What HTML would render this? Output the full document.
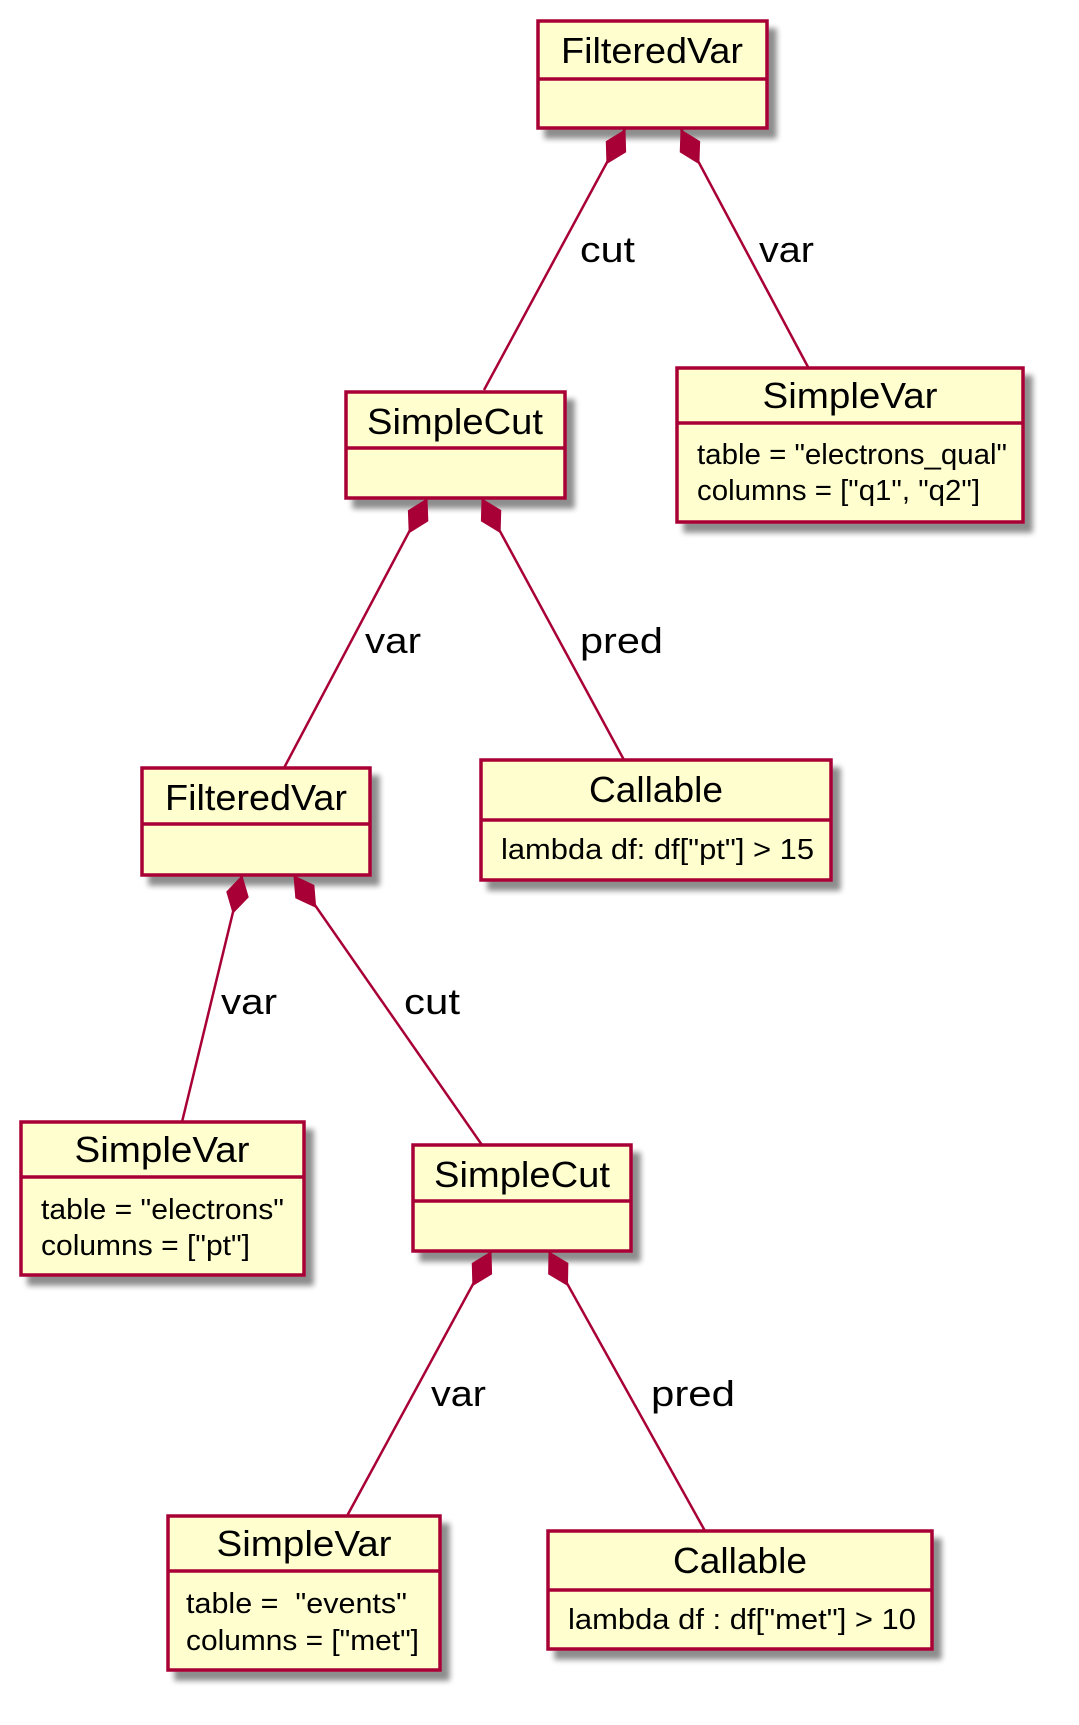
<!DOCTYPE html>
<html><head><meta charset="utf-8"><style>
html,body{margin:0;padding:0;background:#fff;}
svg{display:block;}
text{font-family:"Liberation Sans","DejaVu Sans",sans-serif;fill:#000;}
.t{font-size:36px;}
.a{font-size:29px;}
.l{font-size:36px;}
.b{fill:#FEFECE;stroke:#A80036;stroke-width:3.5;filter:url(#sh);}
.d{stroke:#A80036;stroke-width:3.5;}
.c{stroke:#A80036;stroke-width:2.5;fill:none;}
.m{fill:#A80036;stroke:#A80036;stroke-width:1;}
</style></head><body>
<svg width="1079" height="1725" viewBox="0 0 1079 1725" xmlns="http://www.w3.org/2000/svg">
<defs><filter id="sh" x="-10%" y="-10%" width="130%" height="140%">
<feGaussianBlur in="SourceAlpha" stdDeviation="3"/><feOffset dx="8" dy="9" result="o"/>
<feComponentTransfer><feFuncA type="linear" slope="0.45"/></feComponentTransfer>
<feMerge><feMergeNode/><feMergeNode in="SourceGraphic"/></feMerge></filter></defs>

<line class="c" x1="625" y1="129" x2="484" y2="390"/>
<line class="c" x1="681" y1="129" x2="808" y2="367"/>
<line class="c" x1="427" y1="498" x2="284" y2="768"/>
<line class="c" x1="482" y1="498" x2="624" y2="760"/>
<line class="c" x1="242" y1="875" x2="182" y2="1122"/>
<line class="c" x1="294" y1="875" x2="482" y2="1145"/>
<line class="c" x1="491" y1="1251" x2="347" y2="1516"/>
<line class="c" x1="549" y1="1251" x2="705" y2="1531"/>

<rect class="b" x="538" y="21" width="229" height="107"/><line class="d" x1="538" y1="79" x2="767" y2="79"/>
<text class="t" x="652" y="63" text-anchor="middle" textLength="182" lengthAdjust="spacingAndGlyphs">FilteredVar</text>

<rect class="b" x="346" y="392" width="219" height="106"/><line class="d" x1="346" y1="448" x2="565" y2="448"/>
<text class="t" x="455" y="434" text-anchor="middle" textLength="176" lengthAdjust="spacingAndGlyphs">SimpleCut</text>

<rect class="b" x="677" y="368" width="346" height="154"/><line class="d" x1="677" y1="423" x2="1023" y2="423"/>
<text class="t" x="850" y="408" text-anchor="middle" textLength="175" lengthAdjust="spacingAndGlyphs">SimpleVar</text>
<text class="a" x="697" y="464" textLength="310" lengthAdjust="spacingAndGlyphs">table = "electrons_qual"</text>
<text class="a" x="697" y="500" textLength="283" lengthAdjust="spacingAndGlyphs">columns = ["q1", "q2"]</text>

<rect class="b" x="142" y="768" width="228" height="107"/><line class="d" x1="142" y1="824" x2="370" y2="824"/>
<text class="t" x="256" y="810" text-anchor="middle" textLength="182" lengthAdjust="spacingAndGlyphs">FilteredVar</text>

<rect class="b" x="481" y="760" width="350" height="120"/><line class="d" x1="481" y1="820" x2="831" y2="820"/>
<text class="t" x="656" y="802" text-anchor="middle" textLength="134" lengthAdjust="spacingAndGlyphs">Callable</text>
<text class="a" x="501" y="859" textLength="313" lengthAdjust="spacingAndGlyphs">lambda df: df["pt"] &gt; 15</text>

<rect class="b" x="21" y="1122" width="283" height="153"/><line class="d" x1="21" y1="1177" x2="304" y2="1177"/>
<text class="t" x="162" y="1162" text-anchor="middle" textLength="175" lengthAdjust="spacingAndGlyphs">SimpleVar</text>
<text class="a" x="41" y="1219" textLength="243" lengthAdjust="spacingAndGlyphs">table = "electrons"</text>
<text class="a" x="41" y="1255" textLength="209" lengthAdjust="spacingAndGlyphs">columns = ["pt"]</text>

<rect class="b" x="413" y="1145" width="218" height="106"/><line class="d" x1="413" y1="1201" x2="631" y2="1201"/>
<text class="t" x="522" y="1187" text-anchor="middle" textLength="176" lengthAdjust="spacingAndGlyphs">SimpleCut</text>

<rect class="b" x="168" y="1516" width="272" height="154"/><line class="d" x1="168" y1="1571" x2="440" y2="1571"/>
<text class="t" x="304" y="1556" text-anchor="middle" textLength="175" lengthAdjust="spacingAndGlyphs">SimpleVar</text>
<text class="a" x="186" y="1613" textLength="221" lengthAdjust="spacingAndGlyphs" xml:space="preserve">table =  "events"</text>
<text class="a" x="186" y="1650" textLength="233" lengthAdjust="spacingAndGlyphs">columns = ["met"]</text>

<rect class="b" x="548" y="1531" width="384" height="118"/><line class="d" x1="548" y1="1590" x2="932" y2="1590"/>
<text class="t" x="740" y="1573" text-anchor="middle" textLength="134" lengthAdjust="spacingAndGlyphs">Callable</text>
<text class="a" x="568" y="1629" textLength="348" lengthAdjust="spacingAndGlyphs">lambda df : df["met"] &gt; 10</text>

<g transform="translate(625,130) rotate(118.4)"><polygon class="m" points="0,0 19,-11 38,0 19,11"/></g>
<g transform="translate(681,130) rotate(61.9)"><polygon class="m" points="0,0 19,-11 38,0 19,11"/></g>
<g transform="translate(427,499) rotate(117.9)"><polygon class="m" points="0,0 19,-11 38,0 19,11"/></g>
<g transform="translate(482,499) rotate(61.5)"><polygon class="m" points="0,0 19,-11 38,0 19,11"/></g>
<g transform="translate(242,876) rotate(103.7)"><polygon class="m" points="0,0 19,-11 38,0 19,11"/></g>
<g transform="translate(294,876) rotate(55.2)"><polygon class="m" points="0,0 19,-11 38,0 19,11"/></g>
<g transform="translate(491,1252) rotate(118.5)"><polygon class="m" points="0,0 19,-11 38,0 19,11"/></g>
<g transform="translate(549,1252) rotate(60.9)"><polygon class="m" points="0,0 19,-11 38,0 19,11"/></g>

<text class="l" x="580" y="262" textLength="55" lengthAdjust="spacingAndGlyphs">cut</text>
<text class="l" x="759" y="262" textLength="55" lengthAdjust="spacingAndGlyphs">var</text>
<text class="l" x="365" y="653" textLength="56" lengthAdjust="spacingAndGlyphs">var</text>
<text class="l" x="580" y="653" textLength="83" lengthAdjust="spacingAndGlyphs">pred</text>
<text class="l" x="221" y="1014" textLength="56" lengthAdjust="spacingAndGlyphs">var</text>
<text class="l" x="404" y="1014" textLength="56" lengthAdjust="spacingAndGlyphs">cut</text>
<text class="l" x="431" y="1406" textLength="55" lengthAdjust="spacingAndGlyphs">var</text>
<text class="l" x="651" y="1406" textLength="84" lengthAdjust="spacingAndGlyphs">pred</text>
</svg>
</body></html>
